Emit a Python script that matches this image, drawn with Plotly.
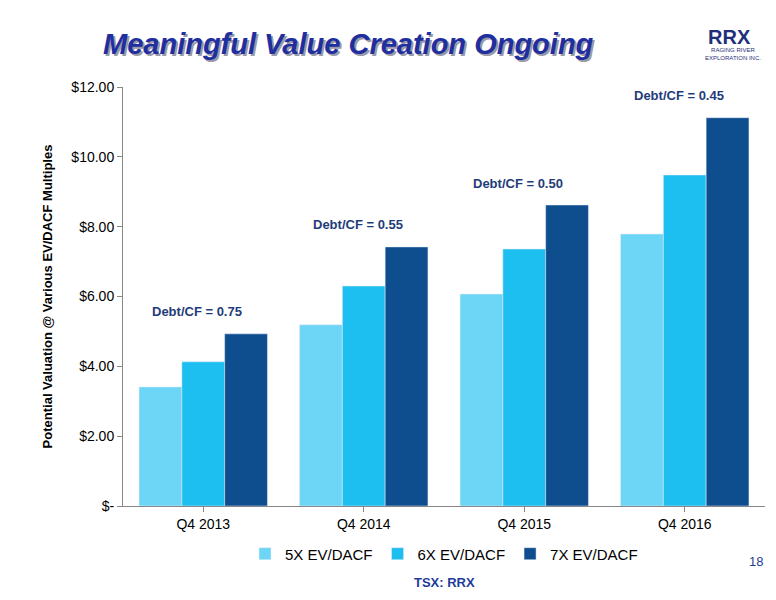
import plotly.graph_objects as go

categories = ["Q4 2013", "Q4 2014", "Q4 2015", "Q4 2016"]
v5 = [3.41, 5.19, 6.07, 7.79]
v6 = [4.13, 6.30, 7.36, 9.48]
v7 = [4.93, 7.42, 8.62, 11.12]
debt_labels = ["Debt/CF = 0.75", "Debt/CF = 0.55", "Debt/CF = 0.50", "Debt/CF = 0.45"]
tickvals = [0, 2, 4, 6, 8, 10, 12]
ticktext = ["$-", "$2.00", "$4.00", "$6.00", "$8.00", "$10.00", "$12.00"]

fig = go.Figure()
fig.add_bar(x=categories, y=v5, name="5X EV/DACF", marker_color="#6dd6f6")
fig.add_bar(x=categories, y=v6, name="6X EV/DACF", marker_color="#1cbff0")
fig.add_bar(x=categories, y=v7, name="7X EV/DACF", marker_color="#0e4e8e")

for c, lab, h in zip(categories, debt_labels, v7):
    fig.add_annotation(x=c, y=h, text="<b>" + lab + "</b>", showarrow=False,
                       yshift=22, xshift=-6, font=dict(color="#1f3c7a", size=13, family="Liberation Sans"))

fig.add_annotation(xref="paper", yref="paper", x=0.5, y=-0.205, text="<b>TSX: RRX</b>",
                   showarrow=False, font=dict(color="#1f3c9a", size=13))
fig.add_annotation(xref="paper", yref="paper", x=1.0, y=-0.155, text="18", showarrow=False,
                   xanchor="right", font=dict(color="#1f3c9a", size=13))
# title shadow + title
fig.add_annotation(xref="paper", yref="paper", x=-0.035, y=1.145, xshift=2, yshift=-2,
                   text="<b><i>Meaningful Value Creation Ongoing</i></b>", showarrow=False,
                   xanchor="left", font=dict(color="#9a9aa8", size=29, family="Liberation Sans"))
fig.add_annotation(xref="paper", yref="paper", x=-0.035, y=1.145,
                   text="<b><i>Meaningful Value Creation Ongoing</i></b>", showarrow=False,
                   xanchor="left", font=dict(color="#1f2fa0", size=29, family="Liberation Sans"))
fig.add_annotation(xref="paper", yref="paper", x=0.945, y=1.15, text="<b>RRX</b>", showarrow=False,
                   xanchor="center", font=dict(color="#1f2f7a", size=20, family="Liberation Sans"))
fig.add_annotation(xref="paper", yref="paper", x=0.95, y=1.10, text="RAGING RIVER<br>EXPLORATION INC.",
                   showarrow=False, xanchor="center", font=dict(color="#1f2f7a", size=6))

fig.update_layout(
    width=776, height=600, barmode="group", bargap=0.2, bargroupgap=0,
    plot_bgcolor="white", paper_bgcolor="white",
    margin=dict(l=115, r=19, t=79, b=102),
    font=dict(family="Liberation Sans", color="#000", size=14),
    legend=dict(orientation="h", x=0.5, xanchor="center", y=-0.075, yanchor="top",
                font=dict(size=15), itemwidth=30),
    showlegend=True,
)
fig.update_yaxes(range=[0, 12], tickvals=tickvals, ticktext=ticktext, showgrid=False,
                 showline=True, linecolor="#888", ticks="outside", tickcolor="#888",
                 title=dict(text="<b>Potential Valuation @ Various EV/DACF Multiples</b>", font=dict(size=13)))
fig.update_xaxes(showline=True, linecolor="#888", ticks="outside", tickcolor="#888", mirror=False)
fig.write_html("out.html")
